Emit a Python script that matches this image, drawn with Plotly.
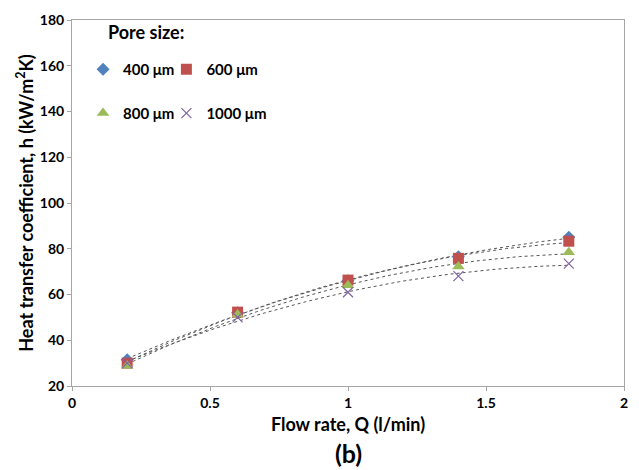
import numpy as np
import plotly.graph_objects as go

flow = [0.2, 0.6, 1.0, 1.4, 1.8]
h_400 = [31.5, 52.0, 66.0, 76.5, 85.0]
h_600 = [30.0, 52.3, 66.3, 75.8, 83.3]
h_800 = [28.8, 51.3, 64.0, 72.2, 78.5]
h_1000 = [30.0, 50.0, 61.0, 68.0, 73.5]

series = [
    ("400 μm", h_400, "diamond", "#4F81BD", 10, "legend"),
    ("600 μm", h_600, "square", "#C0504D", 11, "legend2"),
    ("800 μm", h_800, "triangle-up", "#9BBB59", 11, "legend3"),
    ("1000 μm", h_1000, "x-thin-open", "#8064A2", 10, "legend4"),
]

FONT = "Lato"
fig = go.Figure()

xs = np.linspace(min(flow), max(flow), 100)
for name, ys, sym, col, sz, leg in series:
    c = np.polyfit(flow, ys, 2)
    fig.add_trace(go.Scatter(x=xs, y=np.polyval(c, xs), mode="lines",
                             line=dict(color="#555555", width=1, dash="dot"),
                             showlegend=False, hoverinfo="skip"))
for name, ys, sym, col, sz, leg in series:
    mk = dict(symbol=sym, color=col, size=sz)
    if sym.startswith("x"):
        mk["line"] = dict(color=col, width=1.2)
    fig.add_trace(go.Scatter(x=flow, y=ys, mode="markers", name=name,
                             marker=mk, legend=leg))

axis_common = dict(showgrid=False, zeroline=False, showline=True,
                   linecolor="#A6A6A6", linewidth=1, mirror=True,
                   ticks="outside", ticklen=4, tickcolor="#A6A6A6",
                   tickfont=dict(family=FONT, size=14, color="black", weight="bold"))

leg_font = dict(family=FONT, size=15, color="black", weight="bold")
def leg(x, y):
    return dict(orientation="v", x=x, y=y, xanchor="left", yanchor="middle",
                bgcolor="rgba(0,0,0,0)", itemclick=False, font=leg_font)

fig.update_layout(
    width=639, height=470,
    margin=dict(l=72, r=11, t=18, b=84),
    paper_bgcolor="white", plot_bgcolor="white",
    xaxis=dict(range=[0, 2], dtick=0.5, tickvals=[0, 0.5, 1, 1.5, 2],
               ticktext=["0", "0.5", "1", "1.5", "2"],
               title=dict(text="Flow rate, Q (l/min)", standoff=8,
                          font=dict(family=FONT, size=18, color="black", weight="bold")),
               **axis_common),
    yaxis=dict(range=[20, 180], dtick=20,
               title=dict(text="Heat transfer coefficient, h (kW/m<sup>2</sup>K)", standoff=1,
                          font=dict(family=FONT, size=18, color="black", weight="bold")),
               **axis_common),
    legend=leg(0.02, 0.865),
    legend2=leg(0.171, 0.865),
    legend3=leg(0.02, 0.745),
    legend4=leg(0.171, 0.745),
    annotations=[
        dict(text="Pore size:", xref="paper", yref="paper", x=0.062, y=0.968,
             xanchor="left", yanchor="middle", showarrow=False,
             font=dict(family=FONT, size=18, color="black", weight="bold")),
        dict(text="(b)", xref="paper", yref="paper", x=0.5, y=-0.183,
             xanchor="center", yanchor="middle", showarrow=False,
             font=dict(family=FONT, size=25, color="black", weight="bold")),
    ],
)

fig.write_html("out.html")
